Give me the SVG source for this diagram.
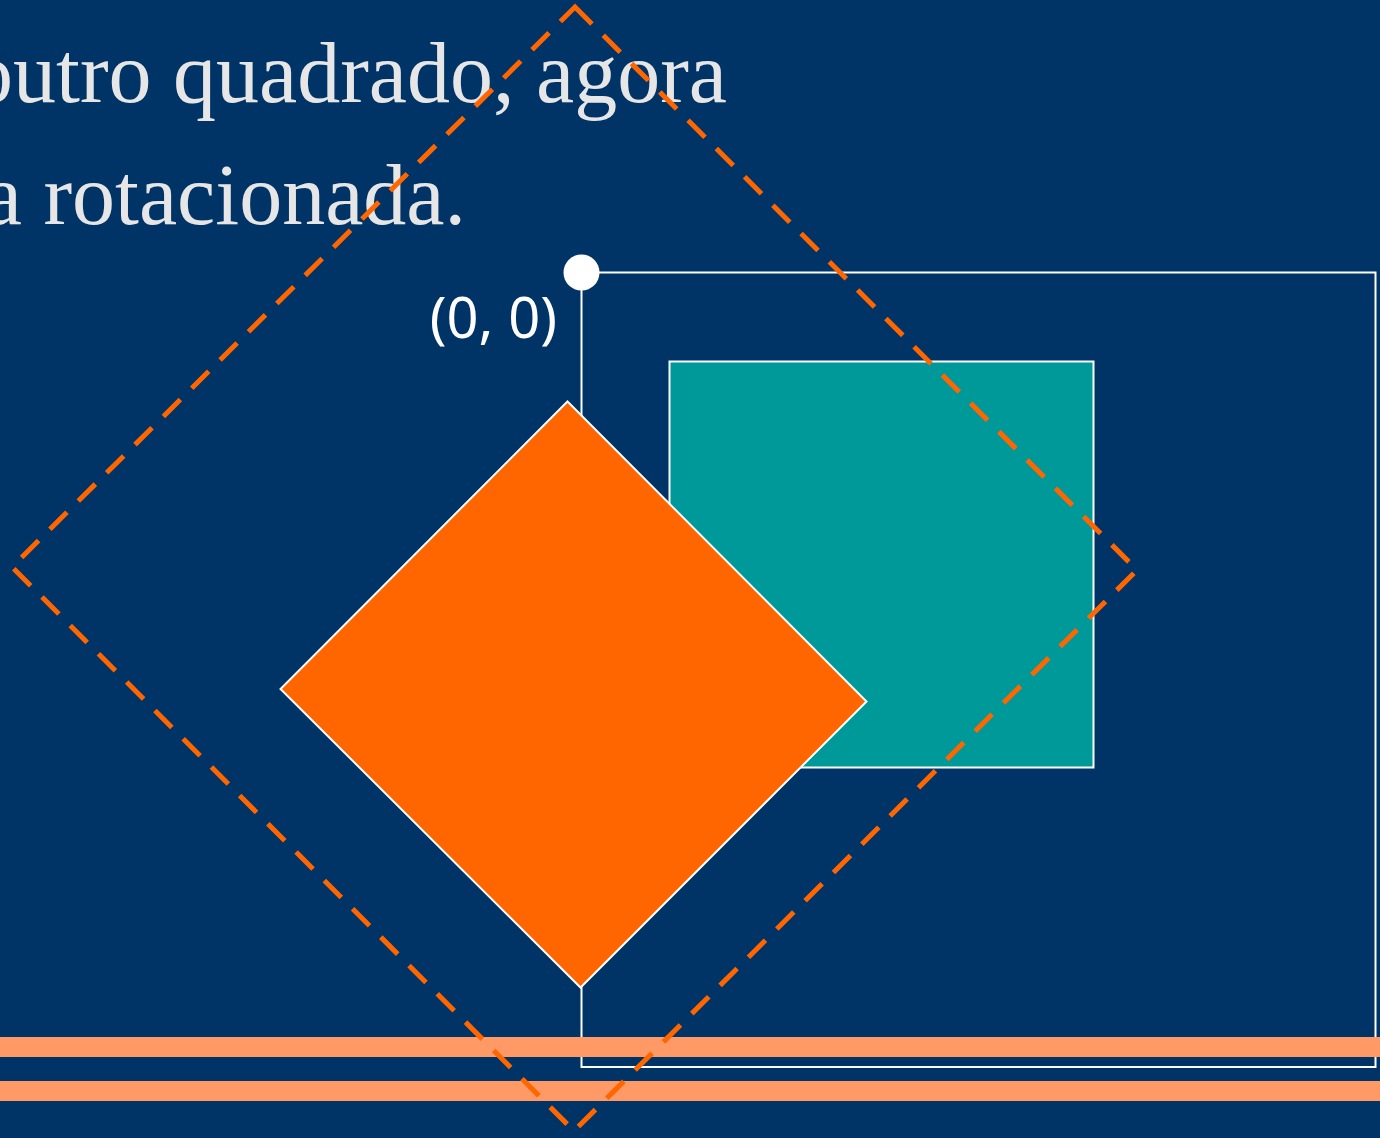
<svg xmlns="http://www.w3.org/2000/svg" width="1380" height="1138" viewBox="0 0 1380 1138">
<style>
.title{font-family:"Liberation Serif","Times New Roman",serif;font-size:86px;fill:#e6e6e6}
.lbl{font-family:"Noto Sans","Open Sans",sans-serif;font-size:56px;fill:#ffffff}
.outline{fill:none;stroke:#ffffff;stroke-width:2}
.bar{fill:#ff9966}
</style>
<rect width="1380" height="1138" fill="#003366"/>
<g id="title">
<text class="title" x="727" y="102" text-anchor="end">outro quadrado, agora</text>
<text class="title" x="466" y="224" text-anchor="end">a rotacionada.</text>
</g>
<g id="frame">
<rect class="outline" x="581.5" y="272.5" width="794" height="794.5"/>
</g>
<g id="origin">
<circle cx="581.5" cy="272.5" r="18" fill="#ffffff"/>
<text class="lbl" x="557" y="338" text-anchor="end">(0, 0)</text>
</g>
<g id="teal-square">
<rect x="669.5" y="361.5" width="424" height="406" fill="#009999" stroke="#ffffff" stroke-width="2"/>
</g>
<g id="orange-diamond">
<polygon points="567.5,401.5 866.5,701.5 580.5,987.5 280.5,689" fill="#ff6600" stroke="#ffffff" stroke-width="2"/>
</g>
<g id="bars">
<rect class="bar" x="0" y="1037" width="1380" height="20"/>
<rect class="bar" x="0" y="1081" width="1380" height="20"/>
</g>
<g id="dashed-square">
<polygon points="575,7 1137,570 574,1131 12,567" fill="none" stroke="#ff6600" stroke-width="5" stroke-dasharray="24 16"/>
</g>
</svg>
